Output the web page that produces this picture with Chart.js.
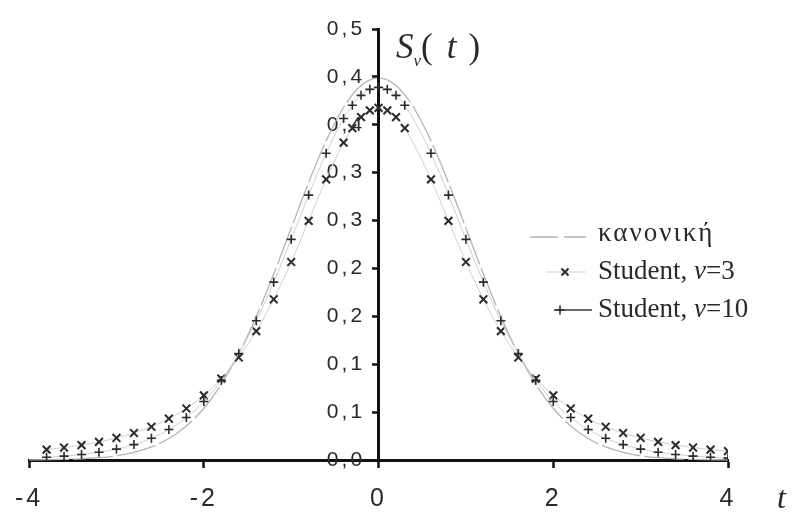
<!DOCTYPE html>
<html>
<head>
<meta charset="utf-8">
<script src="https://cdn.jsdelivr.net/npm/chart.js@4.4.1/dist/chart.umd.min.js"></script>
<style>
  html, body { margin: 0; padding: 0; background: #fff; }
  #wrap { position: relative; width: 807px; height: 513px; overflow: hidden; }
  #c { position: absolute; left: 0; top: 0; }
  .serif { position: absolute; white-space: nowrap; color: #2a2a2a;
           font-family: "Liberation Serif", "Times New Roman", serif; line-height: 1; }
  .row { position: absolute; left: 526px; height: 30px; }
  .row svg { position: absolute; left: 0; top: 0; }
  .row span { position: absolute; left: 72px; top: 0px; font-size: 27px; }
</style>
</head>
<body>
<div id="wrap">
  <canvas id="c" width="807" height="513"></canvas>
  <div class="serif" style="left:396px; top:29px; font-size:35px;"><i>S</i><sub style="font-size:17px;"><i>ν</i></sub>(<i style="margin-left:14px;">t</i><span style="margin-left:12px;">)</span></div>
  <div class="serif" style="left:777px; top:481px; font-size:32px;"><i>t</i></div>

  <div class="serif row" style="top:222px;">
    <svg width="70" height="30"><line x1="4" y1="15" x2="60" y2="15" stroke="#b4b4b4" stroke-width="1.3" stroke-dasharray="28 6"/></svg>
    <span style="letter-spacing:2px; top:-3px;">κανονική</span>
  </div>
  <div class="serif row" style="top:257px;">
    <svg width="70" height="30"><line x1="20" y1="15" x2="60" y2="15" stroke="#cfcfcf" stroke-width="1"/>
      <path d="M35.5 11.5 L42.5 18.5 M42.5 11.5 L35.5 18.5" stroke="#2b2b2b" stroke-width="2"/></svg>
    <span>Student, <i>ν</i>=3</span>
  </div>
  <div class="serif row" style="top:295px;">
    <svg width="70" height="30"><line x1="28" y1="15" x2="66" y2="15" stroke="#3a3a3a" stroke-width="1.3"/>
      <path d="M34 10.5 L34 19.5 M29.5 15 L38.5 15" stroke="#2b2b2b" stroke-width="1.6"/></svg>
    <span>Student, <i>ν</i>=10</span>
  </div>
</div>
<script>
// Sample points of the two Student densities
const tPoints = [-3.8, -3.6, -3.4, -3.2, -3.0, -2.8, -2.6, -2.4, -2.2, -2.0,
                 -1.8, -1.6, -1.4, -1.2, -1.0, -0.8, -0.6, -0.4, -0.3, -0.2,
                 -0.1, 0, 0.1, 0.2, 0.3, 0.6, 0.8, 1.0, 1.2, 1.4,
                 1.6, 1.8, 2.0, 2.2, 2.4, 2.6, 2.8, 3.0, 3.2, 3.4,
                 3.6, 3.8, 4.0];
const student3 = [0.0109, 0.0130, 0.0156, 0.0189, 0.0230, 0.0282, 0.0347, 0.0431, 0.0538, 0.0675,
                  0.0850, 0.1070, 0.1345, 0.1678, 0.2067, 0.2497, 0.2930, 0.3313, 0.3465, 0.3580,
                  0.3651, 0.3676, 0.3651, 0.3580, 0.3465, 0.2930, 0.2497, 0.2067, 0.1678, 0.1345,
                  0.1070, 0.0850, 0.0675, 0.0538, 0.0431, 0.0347, 0.0282, 0.0230, 0.0189, 0.0156,
                  0.0130, 0.0109, 0.0092];
const student10 = [0.0029, 0.0040, 0.0057, 0.0081, 0.0114, 0.0161, 0.0227, 0.0319, 0.0444, 0.0611,
                   0.0831, 0.1111, 0.1454, 0.1857, 0.2304, 0.2766, 0.3203, 0.3566, 0.3704, 0.3807,
                   0.3870, 0.3891, 0.3870, 0.3807, 0.3704, 0.3203, 0.2766, 0.2304, 0.1857, 0.1454,
                   0.1111, 0.0831, 0.0611, 0.0444, 0.0319, 0.0227, 0.0161, 0.0114, 0.0081, 0.0057,
                   0.0040, 0.0029, 0.0020];

// Normal density curve
const zPoints = [-4.0, -3.8, -3.6, -3.4, -3.2, -3.0, -2.8, -2.6, -2.4, -2.2,
                 -2.0, -1.8, -1.6, -1.4, -1.2, -1.0, -0.8, -0.6, -0.4, -0.2,
                 0, 0.2, 0.4, 0.6, 0.8, 1.0, 1.2, 1.4, 1.6, 1.8,
                 2.0, 2.2, 2.4, 2.6, 2.8, 3.0, 3.2, 3.4, 3.6, 3.8,
                 4.0, 4.9];
const normal = [0.0001, 0.0003, 0.0006, 0.0012, 0.0024, 0.0044, 0.0079, 0.0136, 0.0224, 0.0355,
                0.0540, 0.0790, 0.1109, 0.1497, 0.1942, 0.2420, 0.2897, 0.3332, 0.3683, 0.3910,
                0.3989, 0.3910, 0.3683, 0.3332, 0.2897, 0.2420, 0.1942, 0.1497, 0.1109, 0.0790,
                0.0540, 0.0355, 0.0224, 0.0136, 0.0079, 0.0044, 0.0024, 0.0012, 0.0006, 0.0003,
                0.0001, 0.0000];

const xTickLabels = ['-4', '-2', '0', '2', '4'];
const yTickLabels = ['0,0', '0,1', '0,1', '0,2', '0,2', '0,3', '0,3', '0,4', '0,4', '0,5'];

const pairs = (xs, ys) => xs.map((x, i) => ({ x: x, y: ys[i] }));

// Wider spacing for the tick digits, reset before the curves are drawn
const tickSpacing = {
  id: 'tickSpacing',
  beforeDraw(chart) { chart.ctx.letterSpacing = '3px'; },
  beforeDatasetsDraw(chart) { chart.ctx.letterSpacing = '0px'; }
};

new Chart(document.getElementById('c'), {
  type: 'line',
  data: {
    datasets: [
      {
        label: 'κανονική',
        data: pairs(zPoints, normal),
        borderColor: '#b4b4b4',
        borderWidth: 1.3,
        borderDash: [40, 4],
        pointRadius: 0,
        cubicInterpolationMode: 'monotone',
        clip: false,
        order: 3
      },
      {
        label: 'Student, ν=3',
        data: pairs(tPoints, student3),
        borderColor: '#cfcfcf',
        borderWidth: 1,
        pointStyle: 'crossRot',
        pointRadius: 5.5,
        pointBorderWidth: 2,
        pointBorderColor: '#2b2b2b',
        cubicInterpolationMode: 'monotone',
        order: 2
      },
      {
        label: 'Student, ν=10',
        data: pairs(tPoints, student10),
        borderColor: '#cfcfcf',
        borderWidth: 1,
        pointStyle: 'cross',
        pointRadius: 4.5,
        pointBorderWidth: 1.6,
        pointBorderColor: '#2b2b2b',
        cubicInterpolationMode: 'monotone',
        order: 1
      }
    ]
  },
  options: {
    responsive: false,
    animation: false,
    events: [],
    layout: { padding: { left: 28, right: 79, top: 29, bottom: 53 } },
    plugins: { legend: { display: false }, tooltip: { enabled: false } },
    scales: {
      x: {
        type: 'linear',
        min: -4, max: 4,
        position: { y: 0 },
        ticks: {
          stepSize: 2,
          autoSkip: false,
          maxRotation: 0,
          padding: 18,
          color: '#2a2a2a',
          font: { family: 'Liberation Sans', size: 25 },
          callback: (v, i) => xTickLabels[i]
        },
        grid: { display: true, drawOnChartArea: false, drawTicks: true, tickLength: 6, tickWidth: 2.5, tickColor: '#111' },
        border: { display: true, color: '#111', width: 3 }
      },
      y: {
        type: 'linear',
        min: 0, max: 0.45,
        position: { x: 0 },
        ticks: {
          stepSize: 0.05,
          autoSkip: false,
          padding: 8,
          color: '#2a2a2a',
          font: { family: 'Liberation Sans', size: 21 },
          // an en space keeps the label clear of the axis line
          callback: (v, i) => yTickLabels[i] + '\u2002'
        },
        grid: { display: true, drawOnChartArea: false, drawTicks: true, tickLength: 5, tickWidth: 2.5, tickColor: '#111' },
        border: { display: true, color: '#111', width: 3 }
      }
    }
  },
  plugins: [tickSpacing]
});
</script>
</body>
</html>
